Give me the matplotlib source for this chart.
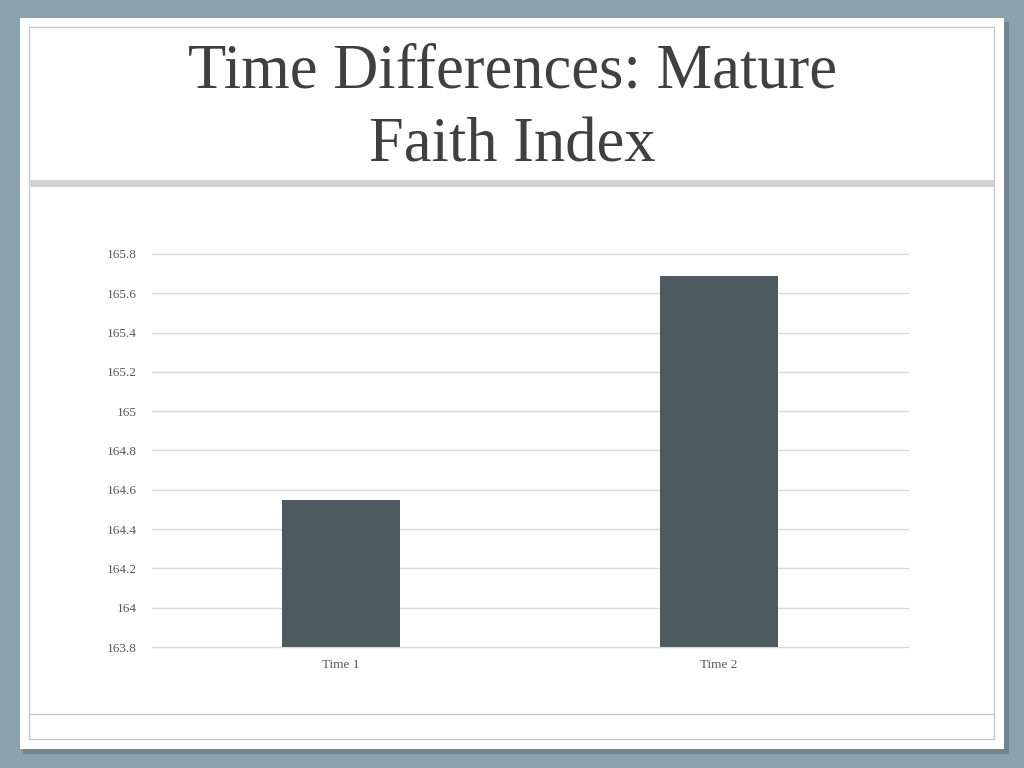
import matplotlib.pyplot as plt
from matplotlib.patches import Rectangle
from matplotlib.lines import Line2D

# data
categories = ["Time 1", "Time 2"]
values = [164.55, 165.69]
yticks = [163.8, 164, 164.2, 164.4, 164.6, 164.8, 165, 165.2, 165.4, 165.6, 165.8]
ytick_labels = ["163.8", "164", "164.2", "164.4", "164.6", "164.8", "165", "165.2", "165.4", "165.6", "165.8"]
title_lines = ["Time Differences: Mature", "Faith Index"]

W, H = 1024, 768
fig = plt.figure(figsize=(W / 100, H / 100), dpi=100)
fig.patch.set_facecolor("#8aa2aa")

def px_rect(x0, y0, x1, y1, **kw):
    # rectangle in pixel coords (origin top-left)
    return Rectangle((x0 / W, 1 - y1 / H), (x1 - x0) / W, (y1 - y0) / H,
                     transform=fig.transFigure, zorder=-5, **kw)

# slide panel with a soft shadow
fig.patches.append(px_rect(23, 22, 1009, 754, facecolor="#5f7479", edgecolor="none", alpha=0.6))
fig.patches.append(px_rect(20, 18, 1004, 749, facecolor="white", edgecolor="none"))
fig.patches.append(px_rect(29, 27, 994, 739, facecolor="none", edgecolor="#c8c8c8", linewidth=1))
fig.patches.append(px_rect(29, 180, 994, 187, facecolor="#d0d4d4", edgecolor="none"))
fig.lines.append(Line2D([29 / W, 994 / W], [1 - 714 / H, 1 - 714 / H],
                        transform=fig.transFigure, color="#c8c8c8", linewidth=1, zorder=-4))

# title, one line at a time on its baseline
for line, base in zip(title_lines, [88, 161]):
    fig.text(512 / W, 1 - base / H, line, ha="center", va="baseline",
             fontsize=45, color="#404040", family="Liberation Serif")

# chart
ax = fig.add_axes([152 / W, 1 - 647 / H, (908 - 152) / W, (647 - 254) / H])
ax.set_facecolor("none")
x = range(len(categories))
ax.bar(x, values, width=0.313, color="#4d5b61", zorder=3)
ax.set_xlim(-0.5, len(categories) - 0.5)
ax.set_ylim(163.8, 165.8)
ax.set_yticks(yticks)
ax.set_yticklabels(ytick_labels)
ax.set_xticks(list(x))
ax.set_xticklabels(categories)
ax.yaxis.grid(True, color="#d9d9d9", linewidth=1, zorder=0)
for gl in ax.get_ygridlines():
    gl.set_clip_on(False)
ax.set_axisbelow(True)
for s in ax.spines.values():
    s.set_visible(False)
ax.tick_params(axis="both", length=0, labelsize=9.5, colors="#595959", labelfontfamily="Liberation Serif")
ax.tick_params(axis="y", pad=11)
ax.tick_params(axis="x", pad=9)

fig.savefig("out.png", dpi=100, facecolor=fig.get_facecolor())
